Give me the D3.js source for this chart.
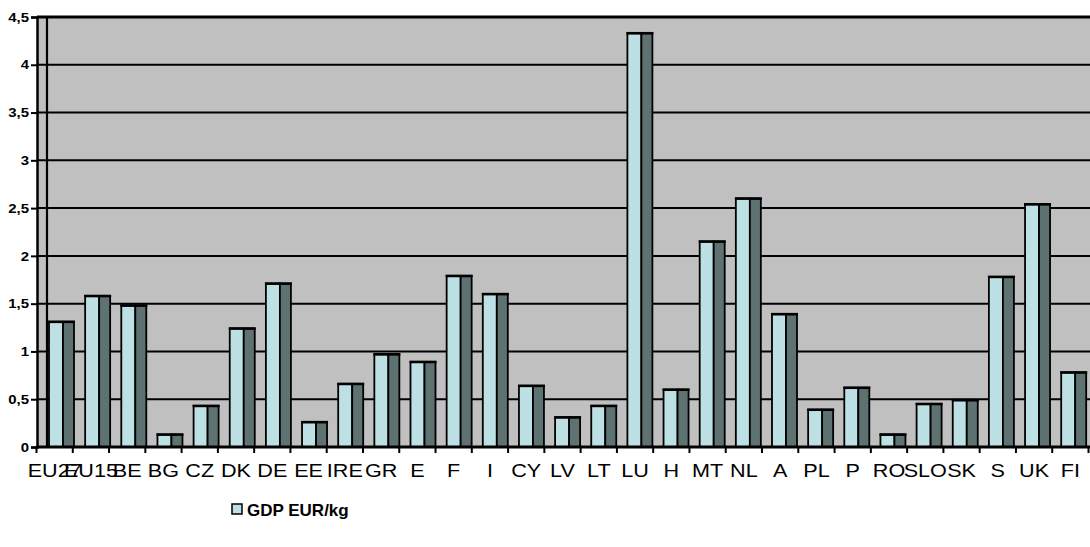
<!DOCTYPE html>
<html>
<head>
<meta charset="utf-8">
<script src="https://cdn.jsdelivr.net/npm/d3@7"></script>
<style>
  html, body { margin: 0; padding: 0; background: #fff; }
  svg { display: block; font-family: "Liberation Sans", Arial, sans-serif; }
</style>
</head>
<body>
<svg id="chart" width="1090" height="547"></svg>
<script>
// GDP per kg of material consumption, EUR/kg
const countries = ["EU27","EU15","BE","BG","CZ","DK","DE","EE","IRE","GR","E","F","I","CY","LV","LT","LU","H","MT","NL","A","PL","P","RO","SLO","SK","S","UK","FI"];
const gdpPerKg = [1.31,1.58,1.48,0.13,0.43,1.24,1.71,0.26,0.66,0.97,0.89,1.79,1.60,0.64,0.31,0.43,4.33,0.60,2.15,2.60,1.39,0.39,0.62,0.13,0.45,0.49,1.78,2.54,0.78];
const yTicks = [0,0.5,1,1.5,2,2.5,3,3.5,4,4.5];
const seriesName = "GDP EUR/kg";

const svg = d3.select("#chart");
const plot = { left: 37, right: 1090, top: 17, bottom: 447 };

const y = d3.scaleLinear().domain([0, 4.5]).range([plot.bottom, plot.top]);
// category slots along the front axis
const xAxis = d3.scaleBand().domain(countries).range([36.5, 1088.5]);
// bar slots (set slightly back in depth, so a touch narrower)
const xBar = d3.scaleBand().domain(countries).range([38.5, 38.5 + 29 * 36.15]);

const fmt = v => String(v).replace(".", ",");

// plot background
svg.append("rect")
  .attr("x", plot.left).attr("y", plot.top)
  .attr("width", plot.right - plot.left).attr("height", plot.bottom - plot.top)
  .attr("fill", "#c0c0c0");

// horizontal gridlines
svg.append("g").selectAll("line").data(yTicks.filter(t => t > 0)).join("line")
  .attr("x1", plot.left).attr("x2", plot.right)
  .attr("y1", d => y(d)).attr("y2", d => y(d))
  .attr("stroke", "#000").attr("stroke-width", d => d === 4.5 ? 3 : 2);

// back wall edge
svg.append("line")
  .attr("x1", plot.left + 10).attr("x2", plot.left + 10)
  .attr("y1", plot.top).attr("y2", plot.bottom)
  .attr("stroke", "#000").attr("stroke-width", 2.2);

// bars: light front face + dark side face
const bars = svg.append("g").selectAll("g").data(countries).join("g");
bars.append("rect")
  .attr("x", d => xBar(d) + 10.5)
  .attr("y", (d, i) => y(gdpPerKg[i]))
  .attr("width", 14)
  .attr("height", (d, i) => y(0) - y(gdpPerKg[i]))
  .attr("fill", "#bce0e3").attr("stroke", "#000").attr("stroke-width", 1.8);
bars.append("rect")
  .attr("x", d => xBar(d) + 24.5)
  .attr("y", (d, i) => y(gdpPerKg[i]))
  .attr("width", 11)
  .attr("height", (d, i) => y(0) - y(gdpPerKg[i]))
  .attr("fill", "#5e7272").attr("stroke", "#000").attr("stroke-width", 1.8);
bars.append("line")
  .attr("x1", d => xBar(d) + 9.5)
  .attr("x2", d => xBar(d) + 36.5)
  .attr("y1", (d, i) => y(gdpPerKg[i]))
  .attr("y2", (d, i) => y(gdpPerKg[i]))
  .attr("stroke", "#000").attr("stroke-width", 2.6);

// y axis
const yAxis = d3.axisLeft(y).tickValues(yTicks).tickFormat(fmt).tickSize(6).tickPadding(2);
const gy = svg.append("g").attr("transform", `translate(${plot.left},0)`).call(yAxis);
gy.select(".domain").attr("stroke", "#000").attr("stroke-width", 2.5);
gy.selectAll(".tick line").attr("stroke", "#000").attr("stroke-width", 2);
gy.selectAll(".tick text")
  .attr("font-size", 13).attr("font-weight", "bold").attr("fill", "#000")
  .attr("font-family", "Liberation Sans, Arial, sans-serif")
  .attr("x", 0)
  .attr("transform", "translate(-8,0) scale(1.15,1)");

// x axis line
svg.append("line")
  .attr("x1", plot.left - 1).attr("x2", plot.right)
  .attr("y1", plot.bottom).attr("y2", plot.bottom)
  .attr("stroke", "#000").attr("stroke-width", 3);

// x ticks at category boundaries
const boundaries = countries.map(c => xAxis(c)).concat([xAxis(countries[countries.length - 1]) + xAxis.bandwidth()]);
svg.append("g").selectAll("line").data(boundaries).join("line")
  .attr("x1", d => d).attr("x2", d => d)
  .attr("y1", plot.bottom).attr("y2", plot.bottom + 6)
  .attr("stroke", "#000").attr("stroke-width", 2);

// x labels, slightly stretched horizontally
svg.append("g").selectAll("text").data(countries).join("text")
  .attr("transform", d => `translate(${xAxis(d) + xAxis.bandwidth() / 2},477) scale(1.2,1)`)
  .attr("text-anchor", "middle")
  .attr("font-size", 18)
  .attr("fill", "#000")
  .text(d => d);

// legend
const lg = svg.append("g").attr("transform", "translate(232,504)");
lg.append("rect").attr("x", 0).attr("y", 0).attr("width", 10).attr("height", 10)
  .attr("fill", "#bce0e3").attr("stroke", "#000").attr("stroke-width", 1.5);
lg.append("text").attr("x", 15).attr("y", 11.5)
  .attr("font-size", 17).attr("font-weight", "bold").attr("fill", "#000")
  .text(seriesName);
</script>
</body>
</html>
